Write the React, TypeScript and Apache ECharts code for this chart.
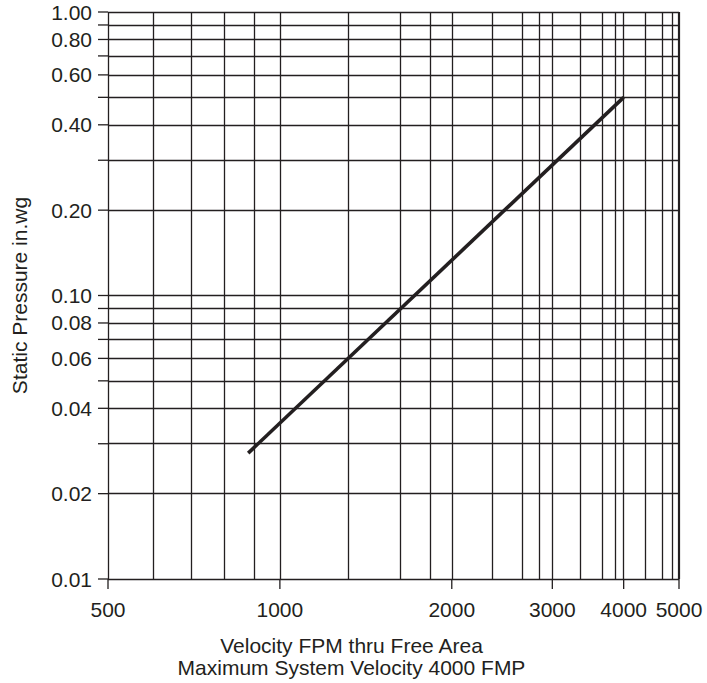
import React, { useEffect, useRef } from "react";
import * as echarts from "echarts";

// Axis ranges
const xMin = 500;
const xMax = 5000;
const yMin = 0.01;
const yMax = 1.0;

// Tick labels
const xTickLabels = [500, 1000, 2000, 3000, 4000, 5000];
const yTickLabels = [1.0, 0.8, 0.6, 0.4, 0.2, 0.1, 0.08, 0.06, 0.04, 0.02, 0.01];

// Grid lines
const xGridValues = [
  500, 600, 700, 800, 900, 1000, 1318, 1624, 1834, 2000, 2350, 2655, 2851, 3000,
  3364, 3668, 3859, 4000, 4372, 4675, 4863, 5000,
];
const yGridValues = [
  1.0, 0.9, 0.8, 0.7, 0.6, 0.5, 0.4, 0.3, 0.2, 0.1, 0.09, 0.08, 0.07, 0.06, 0.05,
  0.04, 0.03, 0.02, 0.01,
];

// Series: velocity (FPM) vs static pressure (in.wg)
const velocity = [880, 4000];
const pressure = [0.0278, 0.5];

const INK = "#231f20";
const FONT = "'Liberation Sans', Arial, Helvetica, sans-serif";
const FS = 21;

export default function App() {
  const ref = useRef<HTMLDivElement>(null);

  useEffect(() => {
    document.body.style.margin = "0";
    if (!ref.current) return;
    const chart = echarts.init(ref.current, undefined, { renderer: "svg" });

    const option: any = {
      animation: false,
      backgroundColor: "#ffffff",
      grid: { left: 103.5, top: 12, right: 28, bottom: 98.7, containLabel: false },
      xAxis: {
        type: "log",
        logBase: 10,
        min: xMin,
        max: xMax,
        axisLine: { show: false },
        axisTick: { show: false },
        axisLabel: { show: false },
        splitLine: { show: false },
        minorTick: { show: false },
        name: "Velocity FPM thru Free Area\nMaximum System Velocity 4000 FMP",
        nameLocation: "middle",
        nameGap: 55,
        nameTextStyle: {
          fontFamily: FONT,
          fontSize: FS,
          lineHeight: 22,
          color: INK,
          padding: [0, 84, 0, 0],
        },
      },
      yAxis: {
        type: "log",
        logBase: 10,
        min: yMin,
        max: yMax,
        axisLine: { show: false },
        axisTick: { show: false },
        axisLabel: { show: false },
        splitLine: { show: false },
        minorTick: { show: false },
        name: "Static Pressure in.wg",
        nameLocation: "middle",
        nameGap: 77,
        nameTextStyle: {
          fontFamily: FONT,
          fontSize: FS,
          lineHeight: 23,
          color: INK,
        },
      },
      series: [
        {
          type: "line",
          z: 1,
          silent: true,
          symbol: "none",
          data: velocity.map((v, i) => [v, pressure[i]]),
          lineStyle: { opacity: 0 },
          markLine: {
            silent: true,
            symbol: ["none", "none"],
            label: { show: false },
            lineStyle: { color: INK, width: 1.3, type: "solid" },
            data: [
              ...xGridValues.map((v) => ({
                xAxis: v,
                lineStyle: { color: INK, width: v === xMax ? 2.2 : 1.3, type: "solid" },
              })),
              ...yGridValues.map((v) => ({
                yAxis: v,
                lineStyle: { color: INK, width: 1.3, type: "solid" },
              })),
            ],
          },
        },
        {
          type: "custom",
          z: 2,
          silent: true,
          clip: false,
          coordinateSystem: "cartesian2d",
          data: xTickLabels.map((v) => [v, yMin]),
          renderItem: (params: any, api: any) => {
            const v = api.value(0);
            const p = api.coord([v, api.value(1)]);
            return {
              type: "group",
              children: [
                {
                  type: "line",
                  shape: { x1: p[0], y1: p[1], x2: p[0], y2: p[1] + 10 },
                  style: { stroke: INK, lineWidth: 1.3 },
                },
                {
                  type: "text",
                  style: {
                    text: String(v),
                    x: p[0],
                    y: p[1] + 30,
                    align: "center",
                    verticalAlign: "middle",
                    fontSize: FS,
                    fontFamily: FONT,
                    fill: INK,
                  },
                },
              ],
            };
          },
        },
        {
          type: "custom",
          z: 2,
          silent: true,
          clip: false,
          coordinateSystem: "cartesian2d",
          data: yGridValues.map((v) => [xMin, v]),
          renderItem: (params: any, api: any) => {
            const v = api.value(1);
            const p = api.coord([api.value(0), v]);
            const children: any[] = [
              {
                type: "line",
                shape: { x1: p[0] - 10, y1: p[1], x2: p[0], y2: p[1] },
                style: { stroke: INK, lineWidth: 1.3 },
              },
            ];
            if (yTickLabels.some((t) => Math.abs(t - v) < 1e-9)) {
              children.push({
                type: "text",
                style: {
                  text: v.toFixed(2),
                  x: p[0] - 16,
                  y: p[1],
                  align: "right",
                  verticalAlign: "middle",
                  fontSize: FS,
                  fontFamily: FONT,
                  fill: INK,
                },
              });
            }
            return { type: "group", children };
          },
        },
        {
          type: "line",
          z: 3,
          silent: true,
          symbol: "none",
          data: velocity.map((v, i) => [v, pressure[i]]),
          lineStyle: { color: INK, width: 3.6, cap: "butt" },
        },
      ],
    };

    chart.setOption(option);
    return () => chart.dispose();
  }, []);

  return (
    <div
      ref={ref}
      style={{ position: "absolute", left: 0, top: 0, width: 707, height: 683 }}
    />
  );
}
